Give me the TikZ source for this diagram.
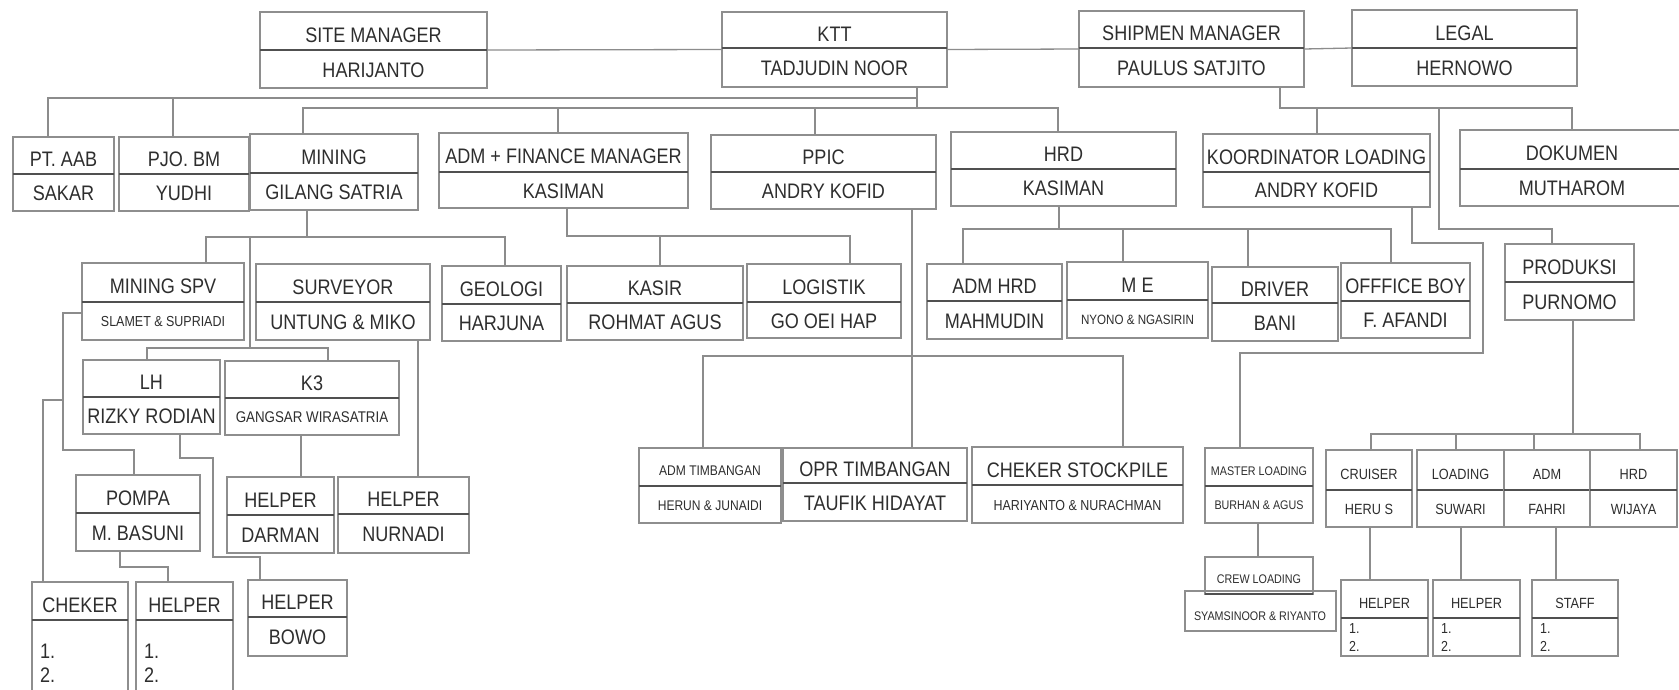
\documentclass[tikz,border=0pt]{standalone}
\usepackage{fontspec}
\setmainfont{Liberation Sans}
\newfontfamily\condf{Liberation Sans}[FakeStretch=0.86]
\usetikzlibrary{calc}
\definecolor{boxc}{HTML}{8E8E8E}
\definecolor{divc}{HTML}{505050}
\definecolor{linec}{HTML}{8C8C8C}
\definecolor{txtc}{HTML}{2E2E2E}
\newcommand\fBig{\condf\fontsize{21}{24}\selectfont}
\newcommand\fSm{\condf\fontsize{14.5}{17}\selectfont}
\newcommand\fTn{\condf\fontsize{12.5}{15}\selectfont}
\newcommand\fBr{\condf\fontsize{14.8}{17}\selectfont}
\newcommand\fMe{\condf\fontsize{13.5}{16}\selectfont}
\newcommand\fGa{\condf\fontsize{15.5}{18}\selectfont}
\newcommand\fAt{\condf\fontsize{14}{17}\selectfont}
\tikzset{
  obox/.style={draw=boxc, line width=1.3pt, rectangle, inner sep=0pt, outer sep=0pt},
  divl/.style={draw=divc, line width=1.8pt},
  conn/.style={draw=linec, line width=1.3pt},
  lbl/.style={inner sep=0pt, text=txtc, font=\fBig},
}
% name, x1, y1, x2, ydiv, y2, top, bottom
\newcommand\obx[8]{%
  \node[obox, minimum width={#4pt-#2pt}, minimum height={#6pt-#3pt}, anchor=north west] (#1) at (#2,#3) {};
  \draw[divl] (#2,#5) -- (#4,#5);
  \node[lbl] (#1-t) at ({(#2+#4)/2},{(#3+#5)/2+4}) {#7};
  \node[lbl] (#1-b) at ({(#2+#4)/2},{(#5+#6)/2+1}) {#8};
}
% name, x1, y1, x2, ydiv, y2, top
\newcommand\obxl[7]{%
  \node[obox, minimum width={#4pt-#2pt}, minimum height={#6pt-#3pt}, anchor=north west] (#1) at (#2,#3) {};
  \draw[divl] (#2,#5) -- (#4,#5);
  \node[lbl] (#1-t) at ({(#2+#4)/2},{(#3+#5)/2+4}) {#7};
}
\begin{document}
\begin{tikzpicture}[x=1pt,y=-1pt]
\useasboundingbox[fill=white] (0,0) rectangle (1679,689);

% top row
\obx{site}{260}{12}{487}{50}{88}{SITE MANAGER}{HARIJANTO}
\obx{ktt}{722}{12}{947}{48}{87}{KTT}{TADJUDIN NOOR}
\obx{ship}{1079}{11}{1304}{48}{87}{SHIPMEN MANAGER}{PAULUS SATJITO}
\obx{legal}{1352}{10}{1577}{48}{86}{LEGAL}{HERNOWO}

% second row
\obx{ptaab}{13}{137}{114}{174}{211}{PT. AAB}{SAKAR}
\obx{pjo}{119}{137}{249}{174}{211}{PJO. BM}{YUDHI}
\obx{mining}{250}{134}{418}{173}{210}{MINING}{GILANG SATRIA}
\obx{admfin}{439}{133}{688}{172}{208}{ADM + FINANCE MANAGER}{KASIMAN}
\obx{ppic}{711}{135}{936}{172}{209}{PPIC}{ANDRY KOFID}
\obx{hrd}{951}{132}{1176}{169}{206}{HRD}{KASIMAN}
\obx{koord}{1203}{134}{1430}{172}{207}{KOORDINATOR LOADING}{ANDRY KOFID}
\obx{dok}{1460}{130}{1684}{169}{206}{DOKUMEN}{MUTHAROM}

% third row
\obx{mspv}{82}{263}{244}{302}{340}{MINING SPV}{\fSm SLAMET \& SUPRIADI}
\obx{surv}{256}{264}{430}{302}{340}{SURVEYOR}{UNTUNG \& MIKO}
\obx{geo}{442}{266}{561}{304}{341}{GEOLOGI}{HARJUNA}
\obx{kasir}{567}{266}{743}{303}{340}{KASIR}{ROHMAT AGUS}
\obx{logi}{747}{264}{901}{302}{338}{LOGISTIK}{GO OEI HAP}
\obx{admhrd}{927}{264}{1062}{301}{339}{ADM HRD}{MAHMUDIN}
\obx{me}{1067}{262}{1208}{300}{338}{M E}{\fMe NYONO \& NGASIRIN}
\obx{driver}{1212}{267}{1338}{303}{341}{DRIVER}{BANI}
\obx{oboy}{1341}{263}{1470}{301}{338}{OFFFICE BOY}{F. AFANDI}
\obx{prod}{1505}{244}{1634}{282}{320}{PRODUKSI}{PURNOMO}

% fourth row
\obx{lh}{83}{360}{220}{397}{434}{LH}{RIZKY RODIAN}
\obx{k3}{225}{361}{399}{398}{435}{K3}{\fGa GANGSAR WIRASATRIA}

% fifth row
\obx{pompa}{76}{475}{200}{513}{551}{POMPA}{M. BASUNI}
\obx{helpd}{227}{477}{334}{515}{553}{HELPER}{DARMAN}
\obx{helpn}{338}{477}{469}{514}{553}{HELPER}{NURNADI}
\obx{admtim}{639}{448}{781}{486}{523}{\fAt ADM TIMBANGAN}{\fAt HERUN \& JUNAIDI}
\obx{oprtim}{783}{448}{967}{483}{521}{OPR TIMBANGAN}{TAUFIK HIDAYAT}
\obx{cheksp}{972}{447}{1183}{485}{523}{CHEKER STOCKPILE}{\fSm HARIYANTO \& NURACHMAN}
\obx{master}{1205}{448}{1313}{486}{523}{\fTn MASTER LOADING}{\fTn BURHAN \& AGUS}
\obx{cruiser}{1326}{450}{1412}{490}{527}{\fBr CRUISER}{\fBr HERU S}
\obx{loading}{1417}{450}{1504}{490}{527}{\fBr LOADING}{\fBr SUWARI}
\obx{adm}{1504}{450}{1590}{490}{527}{\fBr ADM}{\fBr FAHRI}
\obx{hrdb}{1590}{450}{1677}{490}{527}{\fBr HRD}{\fBr WIJAYA}

% crew loading
\node[obox, minimum width=151pt, minimum height=40pt, anchor=north west] (syam) at (1185,591) {};
\node[lbl] (syam-t) at (1260,616) {\fTn SYAMSINOOR \& RIYANTO};
\node[obox, minimum width=108pt, minimum height=37pt, anchor=north west] (crew) at (1205,557) {};
\draw[divl] (1205,594) -- (1313,594);
\node[lbl] (crew-t) at (1259,579) {\fTn CREW LOADING};

% bottom row
\obxl{cheker}{32}{582}{128}{620}{700}{CHEKER}
\node[lbl, anchor=west] (cheker-1) at (40,651) {1.};
\node[lbl, anchor=west] (cheker-2) at (40,675) {2.};
\obxl{helpp}{136}{582}{233}{620}{700}{HELPER}
\node[lbl, anchor=west] (helpp-1) at (144,651) {1.};
\node[lbl, anchor=west] (helpp-2) at (144,675) {2.};
\obx{bowo}{248}{580}{347}{617}{656}{HELPER}{BOWO}
\obxl{helpa}{1341}{580}{1428}{618}{656}{\fBr HELPER}
\node[lbl, anchor=west] (helpa-1) at (1349,629) {\fSm 1.};
\node[lbl, anchor=west] (helpa-2) at (1349,646) {\fSm 2.};
\obxl{helpb}{1433}{580}{1520}{618}{656}{\fBr HELPER}
\node[lbl, anchor=west] (helpb-1) at (1441,629) {\fSm 1.};
\node[lbl, anchor=west] (helpb-2) at (1441,646) {\fSm 2.};
\obxl{staff}{1532}{580}{1618}{618}{656}{\fBr STAFF}
\node[lbl, anchor=west] (staff-1) at (1540,629) {\fSm 1.};
\node[lbl, anchor=west] (staff-2) at (1540,646) {\fSm 2.};

% ===== connectors =====
\draw[conn] (site.east) -- (ktt.west);
\draw[conn] (ktt.east) -- (ship.west);
\draw[conn] (ship.east) -- (legal.west);

\coordinate (kA) at (917,98); \coordinate (kB) at (917,108);
\draw[conn] (ktt.south -| kB) -- (kB);
\coordinate (aL) at (48,98); \coordinate (aP) at (173,98);
\draw[conn] (kA) -- (aL) -- (aL |- ptaab.north);
\draw[conn] (aP) -- (aP |- pjo.north);
\coordinate (bM) at (303,108); \coordinate (bA) at (558,108);
\coordinate (bP) at (815,108); \coordinate (bH) at (1058,108);
\draw[conn] (bM |- mining.north) -- (bM) -- (bH) -- (bH |- hrd.north);
\draw[conn] (bA) -- (bA |- admfin.north);
\draw[conn] (bP) -- (bP |- ppic.north);

\coordinate (sS) at (1280,108); \coordinate (sK) at (1317,108);
\coordinate (sP) at (1439,108); \coordinate (sD) at (1572,108);
\draw[conn] (ship.south -| sS) -- (sS) -- (sD) -- (sD |- dok.north);
\draw[conn] (sK) -- (sK |- koord.north);
\coordinate (pA) at (1439,229); \coordinate (pB) at (1552,229);
\draw[conn] (sP) -- (pA) -- (pB) -- (pB |- prod.north);

\coordinate (kc1) at (1412,243); \coordinate (kc2) at (1483,243);
\coordinate (kc3) at (1483,353); \coordinate (kc4) at (1240,353);
\draw[conn] (koord.south -| kc1) -- (kc1) -- (kc2) -- (kc3) -- (kc4) -- (kc4 |- master.north);

\coordinate (hS) at (1059,229); \coordinate (hA) at (963,229);
\coordinate (hM) at (1123,229); \coordinate (hD) at (1248,229); \coordinate (hO) at (1391,229);
\draw[conn] (hrd.south -| hS) -- (hS);
\draw[conn] (hA |- admhrd.north) -- (hA) -- (hO) -- (hO |- oboy.north);
\draw[conn] (hM) -- (hM |- me.north);
\draw[conn] (hD) -- (hD |- driver.north);

\coordinate (fS) at (567,236); \coordinate (fK) at (660,236); \coordinate (fL) at (850,236);
\draw[conn] (admfin.south -| fS) -- (fS) -- (fL) -- (fL |- logi.north);
\draw[conn] (fK) -- (fK |- kasir.north);

\coordinate (qS) at (912,356); \coordinate (qA) at (703,356); \coordinate (qC) at (1123,356);
\draw[conn] (ppic.south -| qS) -- (qS |- oprtim.north);
\draw[conn] (qA |- admtim.north) -- (qA) -- (qC) -- (qC |- cheksp.north);

\coordinate (mS) at (307,237); \coordinate (mL) at (206,237); \coordinate (mG) at (505,237);
\coordinate (mV) at (250,237); \coordinate (mV2) at (250,348);
\coordinate (mLH) at (147,348); \coordinate (mK3) at (328,348);
\draw[conn] (mining.south -| mS) -- (mS);
\draw[conn] (mL |- mspv.north) -- (mL) -- (mG) -- (mG |- geo.north);
\draw[conn] (mV) -- (mV2);
\draw[conn] (mLH |- lh.north) -- (mLH) -- (mK3) -- (mK3 |- k3.north);

\coordinate (v1) at (63,313); \coordinate (v2) at (63,450); \coordinate (v3) at (134,450);
\coordinate (v4) at (63,400); \coordinate (v5) at (43,400);
\draw[conn] (mspv.west |- v1) -- (v1) -- (v2) -- (v3) -- (v3 |- pompa.north);
\draw[conn] (v4) -- (v5) -- (v5 |- cheker.north);

\coordinate (w1) at (120,567); \coordinate (w2) at (168,567);
\draw[conn] (pompa.south -| w1) -- (w1) -- (w2) -- (w2 |- helpp.north);

\coordinate (l1) at (180,458); \coordinate (l2) at (213,458);
\coordinate (l3) at (213,557); \coordinate (l4) at (260,557);
\draw[conn] (lh.south -| l1) -- (l1) -- (l2) -- (l3) -- (l4) -- (l4 |- bowo.north);

\coordinate (t1) at (301,0);
\draw[conn] (k3.south -| t1) -- (helpd.north -| t1);
\coordinate (u1) at (418,0);
\draw[conn] (surv.south -| u1) -- (helpn.north -| u1);
\coordinate (r1) at (1258,0);
\draw[conn] (master.south -| r1) -- (crew.north -| r1);

\coordinate (z0) at (1573,434); \coordinate (z1) at (1371,434); \coordinate (z2) at (1456,434);
\coordinate (z3) at (1534,434); \coordinate (z4) at (1640,434);
\draw[conn] (prod.south -| z0) -- (z0);
\draw[conn] (z1 |- cruiser.north) -- (z1) -- (z4) -- (z4 |- hrdb.north);
\draw[conn] (z2) -- (z2 |- loading.north);
\draw[conn] (z3) -- (z3 |- adm.north);
\coordinate (c1) at (1370,0); \coordinate (c2) at (1461,0); \coordinate (c3) at (1556,0);
\draw[conn] (cruiser.south -| c1) -- (helpa.north -| c1);
\draw[conn] (loading.south -| c2) -- (helpb.north -| c2);
\draw[conn] (adm.south -| c3) -- (staff.north -| c3);
\end{tikzpicture}
\end{document}
